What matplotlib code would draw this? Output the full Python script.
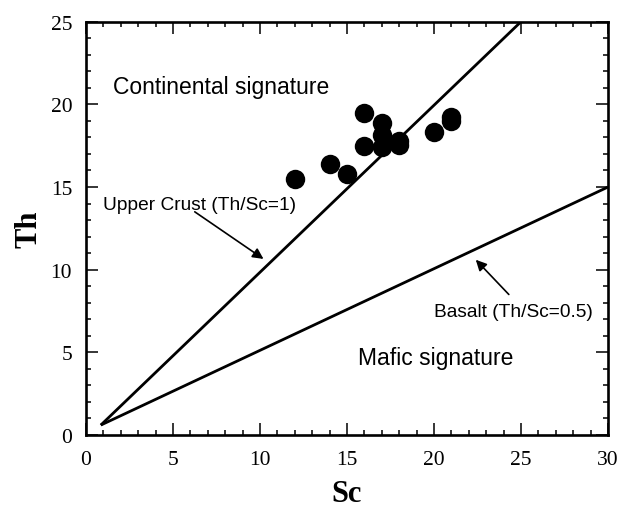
import matplotlib
matplotlib.use('Agg')
import matplotlib.pyplot as plt
from matplotlib.ticker import MultipleLocator

# Sample compositions (ppm)
sc = [12, 14, 15, 16, 16, 17, 17, 17, 18, 18, 20, 21, 21]
th = [15.5, 16.4, 15.8, 19.5, 17.5, 18.9, 18.15, 17.4, 17.8, 17.55, 18.35, 19.0, 19.25]

# Reference ratio lines
crust_sc = [0.85, 25]
crust_th = [0.6, 25]
basalt_sc = [0.85, 30]
basalt_th = [0.6, 15]

serif = 'Liberation Serif'
sans = 'Liberation Sans'

fig = plt.figure(figsize=(6.22, 5.10), dpi=100)
ax = fig.add_axes([0.1383, 0.1451, 0.8392, 0.8104])

ax.plot(crust_sc, crust_th, color='black', lw=2.0, solid_capstyle='butt')
ax.plot(basalt_sc, basalt_th, color='black', lw=2.0, solid_capstyle='butt')
ax.plot(sc, th, 'o', color='black', markersize=14, markeredgewidth=0, zorder=3)

ax.text(1.55, 21.1, 'Continental signature', family=sans, fontsize=16.5, va='center')
ax.text(15.65, 4.7, 'Mafic signature', family=sans, fontsize=16.5, va='center')
ax.text(1.0, 13.95, 'Upper Crust (Th/Sc=1)', family=sans, fontsize=13.8, va='center')
ax.text(20.0, 7.45, 'Basalt (Th/Sc=0.5)', family=sans, fontsize=13.8, va='center')

arrow = dict(arrowstyle='-|>', color='black', lw=1.2, mutation_scale=16, shrinkA=0, shrinkB=0)
ax.annotate('', xy=(10.2, 10.65), xytext=(6.25, 13.5), arrowprops=arrow)
ax.annotate('', xy=(22.4, 10.6), xytext=(24.3, 8.5), arrowprops=arrow)

ax.set_xlim(0, 30)
ax.set_ylim(0, 25)
ax.xaxis.set_major_locator(MultipleLocator(5))
ax.xaxis.set_minor_locator(MultipleLocator(1))
ax.yaxis.set_major_locator(MultipleLocator(5))
ax.yaxis.set_minor_locator(MultipleLocator(1))
ax.tick_params(which='both', direction='in', top=True, right=True, width=1.1)
ax.tick_params(which='major', length=8.3)
ax.tick_params(which='minor', length=3.8)
ax.tick_params(axis='x', pad=11)
ax.tick_params(axis='y', pad=10)
for lab in ax.get_xticklabels() + ax.get_yticklabels():
    lab.set_fontfamily(serif)
    lab.set_fontsize(15.5)
for sp in ax.spines.values():
    sp.set_linewidth(1.9)

ax.set_xlabel('Sc', family=serif, fontsize=22, fontweight='bold', labelpad=7)
ax.set_ylabel('Th', family=serif, fontsize=22, fontweight='bold', labelpad=5)

fig.savefig('out.png', dpi=100)
